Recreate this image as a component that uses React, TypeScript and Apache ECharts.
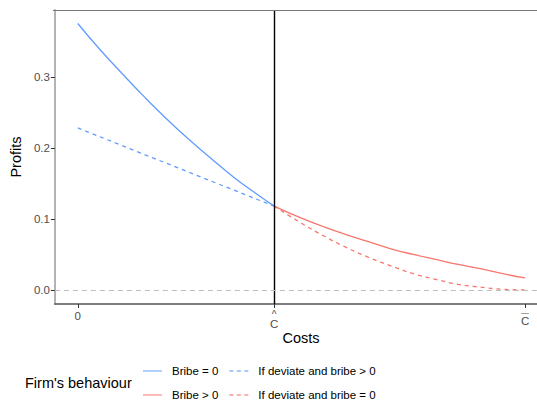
import React, { useEffect, useRef } from "react";
import * as echarts from "echarts";

// x in units of C-bar (C-bar = 1), C-hat ≈ 0.439
const C_HAT = 0.439;
const C_BAR = 1;
const xTicks = [0, C_HAT, C_BAR];
const yTicks = [0, 0.1, 0.2, 0.3];

const blueSolidX = [0, 0.05, 0.1, 0.15, 0.2, 0.25, 0.3, 0.35, 0.4, 0.439];
const blueSolidY = [0.375, 0.338, 0.304, 0.271, 0.24, 0.211, 0.184, 0.158, 0.135, 0.118];

const blueDashX = [0, 0.439];
const blueDashY = [0.228, 0.118];

const redSolidX = [0.439, 0.5, 0.55, 0.6, 0.65, 0.7, 0.75, 0.8, 0.85, 0.9, 0.95, 1];
const redSolidY = [0.118, 0.101, 0.089, 0.078, 0.068, 0.058, 0.05, 0.043, 0.036, 0.03, 0.023, 0.017];

const redDashX = [0.439, 0.5, 0.55, 0.6, 0.65, 0.7, 0.75, 0.8, 0.85, 0.9, 0.95, 1];
const redDashY = [0.118, 0.094, 0.076, 0.06, 0.046, 0.034, 0.023, 0.015, 0.008, 0.004, 0.001, 0];

const legendRow1 = ["Bribe = 0", "If deviate and bribe > 0"];
const legendRow2 = ["Bribe > 0", "If deviate and bribe = 0"];
const dashedNames = ["If deviate and bribe > 0", "If deviate and bribe = 0"];

const BLUE = "#619CFF";
const RED = "#F8766D";
const FONT = "Liberation Sans, Arial, sans-serif";

const SOLID_ICON = "path://M0,0h19v1.3h-19z";
const DASH_ICON = "path://M0,0h4v1.3h-4z M7.5,0h4v1.3h-4z M15,0h4v1.3h-4z";

const zip = (xs: number[], ys: number[]) => xs.map((x, i) => [x, ys[i]]);

export default function App() {
  const ref = useRef<HTMLDivElement>(null);
  useEffect(() => {
    document.body.style.margin = "0";
    const chart = echarts.init(ref.current!, null, { renderer: "svg" });
    const lineSeries = (name: string, xs: number[], ys: number[], color: string, dashed: boolean) => ({
      name,
      type: "line",
      data: zip(xs, ys),
      showSymbol: false,
      symbol: "none",
      smooth: true,
      color,
      lineStyle: { color, width: 1.3, type: dashed ? [4, 4] : "solid" },
      z: 3,
    });
    const legendBase = (top: number, names: string[]) => ({
      left: 143,
      top,
      itemWidth: 19,
      itemHeight: 1.3,
      itemGap: 11,
      padding: 0,
      selectedMode: false,
      itemStyle: { opacity: 0.75 },
      data: names.map((n) => ({ name: n, icon: dashedNames.includes(n) ? DASH_ICON : SOLID_ICON })),
      textStyle: { color: "#000", fontSize: 11.5, fontFamily: FONT, padding: [0, 0, 0, 5] },
    });
    chart.setOption({
      animation: false,
      textStyle: { fontFamily: FONT },
      grid: { left: 53, top: 10, right: 0, bottom: 97, containLabel: false },
      xAxis: {
        type: "value",
        min: -0.0512,
        max: 1.0267,
        name: "Costs",
        nameLocation: "middle",
        nameGap: 26,
        nameMoveOverlap: false,
        nameTextStyle: { color: "#000", fontSize: 14.5, fontFamily: FONT, padding: [0, 0, 0, 10] },
        splitLine: { show: false },
        axisLine: { show: true, onZero: false, lineStyle: { color: "#555", width: 1.5 } },
        axisTick: { show: true, customValues: xTicks, length: 4, lineStyle: { color: "#333" } },
        axisLabel: {
          customValues: xTicks,
          color: "#4d4d4d",
          fontSize: 11.5,
          margin: 5,
          fontFamily: FONT,
          formatter: (v: number) =>
            v === 0 ? "{z|0}" : Math.abs(v - C_HAT) < 1e-6 ? "{h|^}\n{c|C}" : "{b|—}\n{d|C}",
          rich: {
            z: { fontSize: 11.5, color: "#4d4d4d", lineHeight: 14, fontFamily: FONT },
            h: { fontSize: 10, color: "#4d4d4d", lineHeight: 10, fontFamily: FONT },
            c: { fontSize: 11.5, color: "#4d4d4d", lineHeight: 10, fontFamily: FONT },
            b: { fontSize: 8, color: "#4d4d4d", lineHeight: 6, fontFamily: FONT },
            d: { fontSize: 11.5, color: "#4d4d4d", lineHeight: 12, fontFamily: FONT },
          },
        },
      },
      yAxis: {
        type: "value",
        min: -0.0197,
        max: 0.394,
        name: "Profits",
        nameLocation: "middle",
        nameGap: 27,
        nameTextStyle: { color: "#000", fontSize: 14.5, fontFamily: FONT },
        splitLine: { show: false },
        axisLine: { show: true, onZero: false, lineStyle: { color: "#b3b3b3", width: 2 } },
        axisTick: { show: true, customValues: yTicks, length: 4, lineStyle: { color: "#333" } },
        axisLabel: {
          customValues: yTicks,
          color: "#4d4d4d",
          fontSize: 11.5,
          margin: 5,
          fontFamily: FONT,
          formatter: (v: number) => v.toFixed(1),
        },
      },
      legend: [legendBase(365, legendRow1), legendBase(389, legendRow2)],
      graphic: [
        {
          type: "line",
          shape: { x1: 53, y1: 10.5, x2: 537, y2: 10.5 },
          style: { stroke: "#777", lineWidth: 1.2 },
          z: 10,
        },
        {
          type: "text",
          left: 25,
          top: 375,
          style: { text: "Firm's behaviour", fill: "#000", fontSize: 14.5, fontFamily: FONT },
        },
      ],
      series: [
        {
          ...lineSeries("Bribe = 0", blueSolidX, blueSolidY, BLUE, false),
          markLine: {
            silent: true,
            symbol: "none",
            label: { show: false },
            data: [
              { xAxis: C_HAT, lineStyle: { color: "#000", width: 1.4, type: "solid" } },
              { yAxis: 0, lineStyle: { color: "#bdbdbd", width: 1, type: [5, 4] } },
            ],
          },
        },
        lineSeries("If deviate and bribe > 0", blueDashX, blueDashY, BLUE, true),
        lineSeries("Bribe > 0", redSolidX, redSolidY, RED, false),
        lineSeries("If deviate and bribe = 0", redDashX, redDashY, RED, true),
      ],
    });
    return () => chart.dispose();
  }, []);
  return <div ref={ref} style={{ width: 537, height: 401 }} />;
}
